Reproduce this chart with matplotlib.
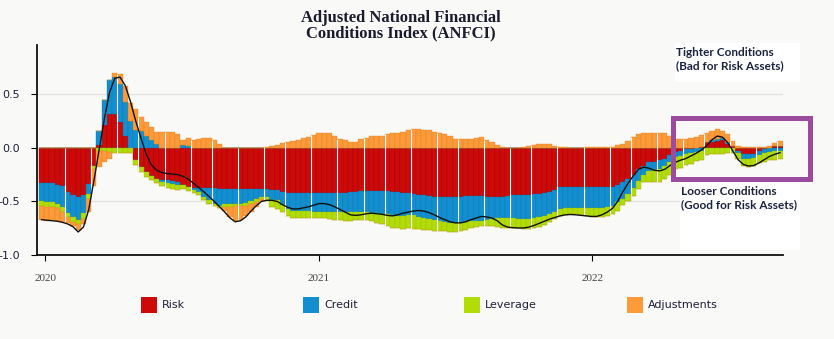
import matplotlib
matplotlib.use('Agg')
import matplotlib.pyplot as plt
import matplotlib.dates as mdates
from matplotlib.patches import Rectangle
import numpy as np
import pandas as pd

plt.rcParams['axes.unicode_minus'] = False

# ================================================================
# WEEKLY CONTRIBUTIONS TO THE ANFCI (Dec 2019 - Sep 2022)
# ================================================================

weeks = pd.date_range('2019-12-27', periods=142, freq='W-FRI')

risk = [
    -0.33, -0.325, -0.33, -0.345, -0.36, -0.41, -0.44, -0.46, -0.44, -0.335,
    -0.165, 0.03, 0.21, 0.32, 0.32, 0.24, 0.115, 0.0, -0.11, -0.18,
    -0.23, -0.26, -0.29, -0.30, -0.30, -0.31, -0.32, -0.35, -0.37, -0.375,
    -0.375, -0.375, -0.375, -0.375, -0.38, -0.38, -0.38, -0.385, -0.385, -0.385,
    -0.385, -0.385, -0.38, -0.38, -0.39, -0.39, -0.41, -0.42, -0.425, -0.425,
    -0.425, -0.42, -0.42, -0.42, -0.42, -0.42, -0.42, -0.42, -0.42, -0.415,
    -0.41, -0.405, -0.40, -0.40, -0.40, -0.40, -0.405, -0.41, -0.415, -0.42,
    -0.425, -0.43, -0.436, -0.44, -0.445, -0.455, -0.46, -0.46, -0.46, -0.46,
    -0.455, -0.452, -0.449, -0.449, -0.449, -0.455, -0.46, -0.458, -0.455, -0.445,
    -0.442, -0.436, -0.436, -0.436, -0.433, -0.43, -0.42, -0.41, -0.393, -0.368,
    -0.361, -0.361, -0.361, -0.361, -0.361, -0.361, -0.361, -0.368, -0.368, -0.361,
    -0.343, -0.32, -0.29, -0.25, -0.196, -0.165, -0.134, -0.128, -0.118, -0.10,
    -0.07, -0.04, -0.025, -0.015, -0.01, 0.0, 0.01, 0.05, 0.055, 0.06,
    0.07, 0.04, 0.015, -0.03, -0.06, -0.06, -0.055, -0.03, -0.01, 0.0,
    0.02, 0.02]

credit = [
    -0.17, -0.185, -0.18, -0.18, -0.19, -0.195, -0.21, -0.21, -0.17, -0.095,
    0.0, 0.125, 0.24, 0.31, 0.34, 0.36, 0.31, 0.255, 0.17, 0.16,
    0.115, 0.075, 0.04, -0.015, -0.03, -0.03, -0.03, 0.03, 0.02, -0.02,
    -0.04, -0.085, -0.115, -0.145, -0.165, -0.14, -0.14, -0.135, -0.135, -0.13,
    -0.115, -0.095, -0.08, -0.08, -0.10, -0.095, -0.12, -0.15, -0.16, -0.16,
    -0.16, -0.17, -0.175, -0.175, -0.175, -0.18, -0.18, -0.18, -0.18, -0.185,
    -0.19, -0.195, -0.20, -0.21, -0.21, -0.215, -0.215, -0.22, -0.22, -0.215,
    -0.20, -0.20, -0.212, -0.218, -0.218, -0.218, -0.224, -0.233, -0.243, -0.243,
    -0.24, -0.237, -0.237, -0.23, -0.23, -0.215, -0.20, -0.20, -0.20, -0.209,
    -0.212, -0.224, -0.227, -0.227, -0.221, -0.218, -0.212, -0.206, -0.209, -0.20,
    -0.20, -0.20, -0.20, -0.20, -0.20, -0.202, -0.202, -0.193, -0.187, -0.178,
    -0.165, -0.156, -0.14, -0.125, -0.109, -0.093, -0.084, -0.078, -0.078, -0.069,
    -0.06, -0.05, -0.05, -0.045, -0.04, -0.035, -0.03, 0.0, 0.02, 0.025,
    0.02, 0.01, 0.0, -0.02, -0.04, -0.04, -0.04, -0.04, -0.04, -0.035,
    -0.03, -0.025]

leverage = [
    -0.045, -0.04, -0.04, -0.04, -0.045, -0.045, -0.045, -0.045, -0.05, -0.05,
    -0.037, -0.03, -0.03, -0.035, -0.05, -0.05, -0.05, -0.05, -0.047, -0.047,
    -0.04, -0.04, -0.04, -0.037, -0.045, -0.04, -0.04, -0.035, -0.03, -0.025,
    -0.025, -0.025, -0.03, -0.025, -0.02, -0.028, -0.028, -0.025, -0.025, -0.025,
    -0.025, -0.025, -0.02, -0.025, -0.06, -0.085, -0.07, -0.065, -0.07, -0.07,
    -0.07, -0.065, -0.06, -0.06, -0.06, -0.065, -0.07, -0.075, -0.08, -0.08,
    -0.075, -0.07, -0.07, -0.075, -0.09, -0.10, -0.11, -0.115, -0.115, -0.12,
    -0.125, -0.125, -0.112, -0.106, -0.103, -0.10, -0.093, -0.087, -0.078, -0.084,
    -0.084, -0.078, -0.065, -0.056, -0.047, -0.059, -0.072, -0.084, -0.093, -0.097,
    -0.097, -0.09, -0.09, -0.093, -0.097, -0.087, -0.087, -0.078, -0.062, -0.069,
    -0.062, -0.056, -0.056, -0.062, -0.072, -0.084, -0.084, -0.081, -0.078, -0.078,
    -0.078, -0.062, -0.062, -0.072, -0.078, -0.062, -0.097, -0.115, -0.125, -0.125,
    -0.12, -0.11, -0.11, -0.10, -0.10, -0.09, -0.08, -0.07, -0.06, -0.055,
    -0.055, -0.05, -0.05, -0.055, -0.07, -0.075, -0.075, -0.075, -0.08, -0.08,
    -0.08, -0.075]

adjustments = [
    -0.125, -0.13, -0.125, -0.12, -0.095, -0.05, -0.035, -0.055, -0.05, -0.12,
    -0.15, -0.15, -0.10, -0.07, 0.04, 0.09, 0.155, 0.165, 0.19, 0.13,
    0.125, 0.12, 0.11, 0.145, 0.145, 0.145, 0.13, 0.04, 0.075, 0.075,
    0.085, 0.09, 0.09, 0.075, 0.04, -0.04, -0.10, -0.14, -0.13, -0.10,
    -0.07, -0.047, -0.015, 0.01, 0.02, 0.03, 0.045, 0.05, 0.065, 0.07,
    0.09, 0.10, 0.118, 0.134, 0.143, 0.134, 0.115, 0.084, 0.07, 0.056,
    0.056, 0.078, 0.093, 0.106, 0.115, 0.115, 0.128, 0.134, 0.134, 0.15,
    0.162, 0.172, 0.172, 0.162, 0.162, 0.152, 0.137, 0.125, 0.106, 0.087,
    0.078, 0.078, 0.078, 0.09, 0.097, 0.075, 0.056, 0.03, 0.005, 0.0,
    0.0, 0.0, 0.01, 0.02, 0.03, 0.04, 0.04, 0.04, 0.02, 0.012,
    0.005, 0.0, 0.0, 0.0, 0.005, 0.012, 0.012, 0.012, 0.012, 0.012,
    0.028, 0.037, 0.062, 0.10, 0.125, 0.137, 0.143, 0.143, 0.137, 0.137,
    0.11, 0.08, 0.08, 0.085, 0.09, 0.105, 0.11, 0.09, 0.08, 0.093,
    0.07, 0.075, 0.045, 0.016, 0.005, 0.005, 0.005, 0.01, 0.01, 0.015,
    0.025, 0.045]

anfci = [
    -0.67, -0.675, -0.68, -0.685, -0.695, -0.71, -0.735, -0.785, -0.74, -0.58,
    -0.31, -0.02, 0.27, 0.52, 0.65, 0.66, 0.58, 0.43, 0.25, 0.09,
    -0.06, -0.16, -0.21, -0.23, -0.24, -0.245, -0.25, -0.265, -0.29, -0.33,
    -0.37, -0.41, -0.455, -0.50, -0.55, -0.60, -0.655, -0.69, -0.68, -0.645,
    -0.59, -0.54, -0.50, -0.49, -0.49, -0.50, -0.53, -0.555, -0.57, -0.57,
    -0.56, -0.55, -0.535, -0.52, -0.52, -0.53, -0.55, -0.575, -0.60, -0.625,
    -0.63, -0.625, -0.615, -0.61, -0.615, -0.62, -0.63, -0.635, -0.625, -0.61,
    -0.60, -0.59, -0.585, -0.59, -0.605, -0.625, -0.65, -0.67, -0.69, -0.70,
    -0.70, -0.69, -0.67, -0.655, -0.64, -0.645, -0.655, -0.68, -0.72, -0.74,
    -0.745, -0.748, -0.748, -0.74, -0.725, -0.705, -0.685, -0.665, -0.65, -0.635,
    -0.625, -0.622, -0.625, -0.63, -0.635, -0.64, -0.64, -0.625, -0.60, -0.565,
    -0.50, -0.41, -0.33, -0.26, -0.20, -0.18, -0.19, -0.21, -0.215, -0.20,
    -0.165, -0.135, -0.115, -0.10, -0.075, -0.05, -0.02, 0.02, 0.075, 0.11,
    0.10, 0.05, -0.03, -0.11, -0.155, -0.17, -0.165, -0.14, -0.11, -0.08,
    -0.06, -0.045]

series_names = ['Risk', 'Credit', 'Leverage', 'Adjustments']
series_colors = ['#cc0a0a', '#138fd0', '#b2dc08', '#fd9a3a']
edge_colors = ['#a80000', '#0c76b0', '#97bd00', '#e08224']

W, H = 834, 339
BG = '#f9f9f7'

fig = plt.figure(figsize=(W / 100, H / 100), dpi=100, facecolor=BG)
ax = fig.add_axes([37 / W, 1 - 255 / H, (783 - 37) / W, (255 - 45) / H])
ax.set_facecolor(BG)

# stacked bars: positives build up from zero, negatives build down
pos_base = np.zeros(len(weeks))
neg_base = np.zeros(len(weeks))
for vals, col, ecol in zip([risk, credit, leverage, adjustments], series_colors, edge_colors):
    v = np.array(vals)
    pos = np.where(v > 0, v, 0)
    neg = np.where(v < 0, v, 0)
    ax.bar(weeks, pos, width=7, bottom=pos_base, color=col, edgecolor=ecol,
           linewidth=0.25, zorder=2)
    ax.bar(weeks, neg, width=7, bottom=neg_base, color=col, edgecolor=ecol,
           linewidth=0.25, zorder=2)
    pos_base += pos
    neg_base += neg

# thin white seams that show up between some bars
seam = [i for i in range(1, len(weeks)) if int(i / 4.7) > int((i - 1) / 4.7)]
seam_x = [weeks[i] - pd.Timedelta(days=3.5) for i in seam]
ax.vlines(seam_x, neg_base[seam], pos_base[seam], color='white', lw=0.8, zorder=2.5)

ax.plot(weeks, anfci, color='#111111', lw=1.0, zorder=3)

ax.set_ylim(-1.0, 0.96)
ax.set_xlim(pd.Timestamp('2019-12-21'), pd.Timestamp('2022-09-13'))
ax.set_yticks([-1.0, -0.5, 0.0, 0.5])
ax.set_yticklabels(['-1.0', '-0.5', '0.0', '0.5'])
ax.yaxis.grid(True, color='#e3e3e3', lw=1.0)
ax.set_axisbelow(True)

ax.xaxis.set_major_locator(mdates.YearLocator())
ax.xaxis.set_major_formatter(mdates.DateFormatter('%Y'))

for side in ['top', 'right']:
    ax.spines[side].set_visible(False)
for side in ['left', 'bottom']:
    ax.spines[side].set_color('#111111')
    ax.spines[side].set_linewidth(1.3)

ax.tick_params(axis='y', length=4, width=0.8, pad=8, labelsize=8, labelcolor='#1f1f3a')
ax.tick_params(axis='x', length=4, width=0.8, pad=10, labelsize=8, labelcolor='#444444')
for lbl in ax.get_xticklabels():
    lbl.set_fontfamily('Liberation Serif')

# ================================================================
# TITLE, LEGEND AND NOTES
# ================================================================

fig.text(401 / W, 1 - 25.5 / H, 'Adjusted National Financial\nConditions Index (ANFCI)',
         ha='center', va='center', fontfamily='Liberation Serif', fontweight='bold',
         fontsize=12, linespacing=0.95, color='#1b1b2f')

legend_x = [141, 303, 464, 627]
for x0, name, col in zip(legend_x, series_names, series_colors):
    fig.add_artist(Rectangle((x0 / W, 1 - 313 / H), 16 / W, 16 / H,
                             transform=fig.transFigure, facecolor=col, edgecolor='none'))
    fig.text((x0 + 21) / W, 1 - 305 / H, name, ha='left', va='center',
             fontsize=8, color='#1f1f3a')

fig.add_artist(Rectangle((675 / W, 1 - 82 / H), 125 / W, 39 / H, transform=fig.transFigure,
                         facecolor='white', edgecolor='none', zorder=3))
fig.add_artist(Rectangle((680 / W, 1 - 250 / H), 120 / W, 70 / H, transform=fig.transFigure,
                         facecolor='white', edgecolor='none', zorder=3))
fig.add_artist(Rectangle((672.5 / W, 1 - 179 / H), 137.5 / W, 61.5 / H,
                         transform=fig.transFigure, fill=False, edgecolor='#9b4c9f',
                         linewidth=3.6, zorder=4))

fig.text(676 / W, 1 - 59 / H, 'Tighter Conditions\n(Bad for Risk Assets)', ha='left',
         va='center', fontfamily='Lato', fontweight='bold', fontsize=8.5,
         linespacing=1.25, color='#1a2340', zorder=5)
fig.text(681 / W, 1 - 198 / H, 'Looser Conditions\n(Good for Risk Assets)', ha='left',
         va='center', fontfamily='Lato', fontweight='bold', fontsize=8.5,
         linespacing=1.25, color='#1a2340', zorder=5)

plt.savefig('out.png', dpi=100, facecolor=BG)
plt.close()

print("Created: out.png")
